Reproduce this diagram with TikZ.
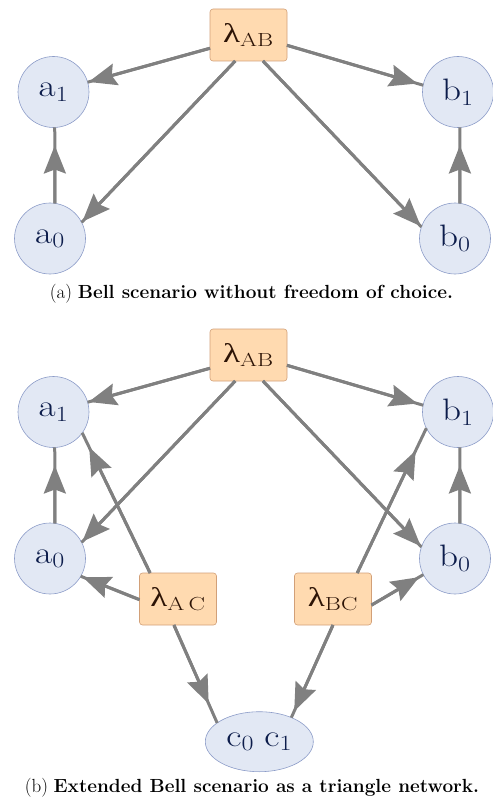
\RequirePackage{fix-cm}
\documentclass[tikz,border=0pt]{standalone}
\usepackage{fontspec}
\usepackage{graphicx}
\newfontfamily\grk{Liberation Serif}
\usetikzlibrary{arrows.meta,shapes.geometric}
\definecolor{circfill}{RGB}{226,232,244}
\definecolor{circdraw}{RGB}{140,156,200}
\definecolor{boxfill}{RGB}{255,218,176}
\definecolor{boxdraw}{RGB}{210,160,120}
\definecolor{edgegray}{RGB}{128,128,128}
\definecolor{circtext}{RGB}{12,28,75}
\definecolor{boxtext}{RGB}{45,20,6}
\newcommand\lam{{\grk λ}}
\newcommand\vlab[1]{\scalebox{1.2}[1]{\fontsize{31}{34}\selectfont$#1$}}
\newcommand\slab[1]{\scalebox{1.3}[1]{\fontsize{27}{30}\selectfont\lam$_{\mathrm{#1}}$}}
\newcommand\capfont{\fontsize{19}{22}\selectfont}
\newcommand\conn[3]{%
  \draw[edge] #2 -- #3;
  \draw[edge,-{Stealth[length=28pt,width=22pt,inset=4pt]},shorten >=#1pt] #2 -- #3;}
\tikzset{
  var/.style={circle,minimum size=71pt,inner sep=0pt,outer sep=0pt,fill=circfill,draw=circdraw,line width=0.6pt,text=circtext},
  cvar/.style={ellipse,minimum width=108pt,minimum height=60pt,inner sep=0pt,outer sep=0pt,fill=circfill,draw=circdraw,line width=0.6pt,text=circtext},
  src/.style={rectangle,rounded corners=3pt,minimum width=77pt,minimum height=52pt,inner sep=0pt,outer sep=0pt,fill=boxfill,draw=boxdraw,line width=0.6pt,text=boxtext},
  edge/.style={draw=edgegray,fill=edgegray,line width=3pt},
  capt/.style={anchor=base,inner sep=0pt}
}
\begin{document}
\begin{tikzpicture}[x=1pt,y=-1pt]
\useasboundingbox (0,0) rectangle (492,802);
% ---------- (a)
\node[src] (lab) at (248.5,35) {\slab{AB}};
\node[var] (a1) at (53.5,92) {\vlab{\mathrm{a}_1}};
\node[var] (b1) at (458,92) {\vlab{\mathrm{b}_1}};
\node[var] (a0) at (50,238.5) {\vlab{\mathrm{a}_0}};
\node[var] (b0) at (455,238.5) {\vlab{\mathrm{b}_0}};
\conn{1}{(lab.199)}{(a1.16)}
\conn{6}{(lab.-15)}{(b1.169)}
\conn{1}{(lab.243)}{(a0.27)}
\conn{1}{(lab.-61)}{(b0.161)}
\conn{18}{(a0.82)}{(a1.-88)}
\conn{18}{(b0.82)}{(b1.-87)}
\node[capt] (capa) at (251.5,298) {\capfont(a) \textbf{Bell scenario without freedom of choice.}};
% ---------- (b)
\node[src] (labb) at (248.5,355) {\slab{AB}};
\node[var] (a1b) at (53.5,412) {\vlab{\mathrm{a}_1}};
\node[var] (b1b) at (458,412) {\vlab{\mathrm{b}_1}};
\node[var] (a0b) at (50,558.5) {\vlab{\mathrm{a}_0}};
\node[var] (b0b) at (455,558.5) {\vlab{\mathrm{b}_0}};
\node[src] (lac) at (178,599) {\slab{A\,C}};
\node[src] (lbc) at (333,599) {\slab{BC}};
\node[cvar] (c) at (259.3,741.7) {\vlab{\mathrm{c}_0\;\mathrm{c}_1}};
\conn{1}{(labb.199)}{(a1b.16)}
\conn{6}{(labb.-15)}{(b1b.169)}
\conn{1}{(labb.243)}{(a0b.27)}
\conn{1}{(labb.-61)}{(b0b.161)}
\conn{18}{(a0b.82)}{(a1b.-88)}
\conn{18}{(b0b.82)}{(b1b.-87)}
\conn{16}{(lac.137)}{(a1b.-36)}
\conn{2}{(lac.181.5)}{(a0b.-30)}
\conn{25}{(lbc.47)}{(b1b.207.5)}
\conn{5}{(lbc.-9)}{(b0b.207.5)}
\conn{21}{(lac.-99)}{(c.156.6)}
\conn{7}{(lbc.-90)}{(c.37)}
\node[capt] (capb) at (252,792) {\capfont(b) \textbf{Extended Bell scenario as a triangle network.}};
\end{tikzpicture}
\end{document}
